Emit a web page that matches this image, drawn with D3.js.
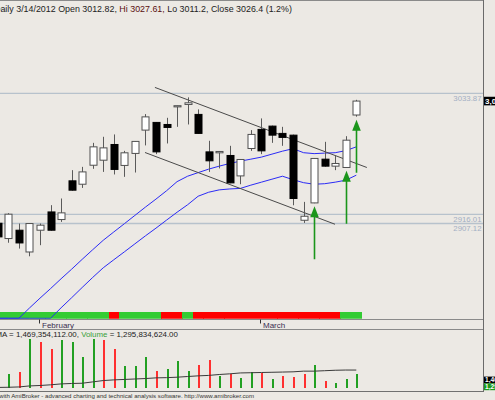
<!DOCTYPE html>
<html><head><meta charset="utf-8">
<script src="https://cdn.jsdelivr.net/npm/d3@7"></script>
<style>html,body{margin:0;padding:0;background:#ece9e4;overflow:hidden}svg{display:block}</style>
</head><body><svg id="c" width="495" height="400"></svg>
<script>
const dates = ["2012-01-26","2012-01-27","2012-01-30","2012-01-31",
  "2012-02-01","2012-02-02","2012-02-03","2012-02-06","2012-02-07","2012-02-08","2012-02-09","2012-02-10",
  "2012-02-13","2012-02-14","2012-02-15","2012-02-16","2012-02-17","2012-02-20","2012-02-21","2012-02-22",
  "2012-02-23","2012-02-24","2012-02-27","2012-02-28","2012-02-29",
  "2012-03-01","2012-03-02","2012-03-05","2012-03-06","2012-03-07","2012-03-08","2012-03-09","2012-03-12",
  "2012-03-13","2012-03-14"];
const open  = [2907.4,2892.5,2900.6,2879.4,2900.6,2918.4,2911.0,2948.7,2945.4,2963.9,2968.8,2984.1,2963.7,2975.4,2998.1,3005.6,3003.6,3021.4,3023.1,3013.4,2976.9,2976.0,2973.4,2953.5,2980.2,2998.8,3002.0,2994.9,2993.2,2910.3,2927.2,2969.8,2963.0,2961.7,3012.82];
const high  = [2910.3,2917.2,2907.1,2907.4,2907.1,2925.0,2931.5,2959.1,2962.3,2985.7,2991.6,2993.9,2977.9,2987.4,3013.7,3005.9,3010.1,3021.9,3030.0,3018.3,2987.7,2977.4,2982.8,2969.8,2998.1,3009.5,3002.5,3001.3,2993.7,2928.2,2970.8,2986.7,2973.7,2992.2,3027.61];
const low   = [2890.8,2888.4,2882.7,2875.2,2886.0,2900.1,2908.7,2939.1,2941.8,2960.4,2957.4,2954.9,2952.6,2956.8,2983.2,2974.7,2985.1,3001.3,3003.6,2994.7,2957.4,2960.8,2946.4,2945.4,2977.9,2974.7,2985.7,2982.8,2924.9,2907.7,2926.9,2962.5,2959.1,2961.5,3011.2];
const close = [2894.1,2916.2,2888.2,2907.1,2905.5,2900.6,2917.5,2939.6,2957.4,2981.8,2980.8,2959.8,2976.0,2987.1,3011.0,2976.9,3000.7,3021.9,3024.7,2994.9,2968.2,2977.3,2946.7,2969.5,2993.9,2977.9,2993.2,2991.0,2931.5,2914.2,2970.5,2963.0,2965.6,2988.3,3026.4];
const maFast = [2795,2805,2814.5,2824.8,2834.4,2843.7,2853.3,2862.6,2872.2,2881.6,2890.8,2898.9,2906.9,2915.0,2923.1,2930.9,2939.0,2947.9,2953.2,2956.7,2960.1,2963.0,2965.6,2967.9,2969.8,2971.8,2974.7,2977.6,2980.0,2976.1,2975.2,2975.7,2976.1,2978.1,2981.8];
const maSlow = [2770,2778,2786,2795,2805,2814.8,2825.0,2834.8,2844.8,2854.6,2864.0,2871.8,2879.5,2887.3,2895.1,2902.6,2910.4,2918.1,2925.4,2933.7,2937.6,2939.9,2940.8,2941.3,2944.5,2947.4,2950.3,2953.2,2949.8,2946.9,2945.4,2945.9,2947.4,2949.3,2954.2];
// volume in billions of shares
const volume = [1.50,1.28,1.37,2.85,2.74,2.41,2.81,2.71,2.04,2.85,2.81,2.41,1.67,1.67,2.07,1.44,1.52,1.89,1.44,1.71,1.92,1.22,1.30,1.10,1.37,1.33,1.06,1.21,1.15,1.30,1.68,0.98,0.91,1.06,1.295834624];
const volumeMA = [0.693,0.70,0.715,0.76,0.78,0.81,0.85,0.87,0.88,0.94,1.00,1.03,1.05,1.07,1.09,1.12,1.13,1.15,1.18,1.21,1.23,1.27,1.30,1.34,1.35,1.36,1.37,1.38,1.39,1.42,1.42,1.44,1.46,1.47,1.469354112];
const stripState = ["g","g","g","g","g","g","g","g","g","g","g","r","g","g","g","g","r","r","g","r","r","r","r","r","r","r","r","r","r","r","r","r","r","g","g"];
const refLevels = [3033.87, 2916.01, 2907.12];
const refLabels = ["3033.87", "2916.01", "2907.12"];
const buySignals = [30, 33, 34];
const trendUpper = [[14.9, 3039.7], [35.0, 2961.7]];
const trendLower = [[13.96, 2976.3], [31.98, 2906.4]];
const monthNames = ["January","February","March"];

const svg = d3.select("#c");
const W = 483;
const priceBottom = 318.3;
const FONT = "Liberation Sans, Arial, sans-serif";
const x = d3.scaleLinear().domain([0, dates.length - 1]).range([-2.2, 356.3]);
const step = x(1) - x(0);
const y = d3.scaleLinear().domain([2814.8, 3124.84]).range([priceBottom, 0]);
const yc = y.copy().clamp(true);
const yv = d3.scaleLinear().domain([0.69, 2.95]).range([387.5, 336.9]);

const defs = svg.append("defs");
defs.append("clipPath").attr("id","cp").append("rect").attr("x",0).attr("y",0).attr("width",W).attr("height",priceBottom+0.5);
defs.append("clipPath").attr("id","cv").append("rect").attr("x",0).attr("y",330).attr("width",W).attr("height",61);

// frames
const frame = svg.append("g").attr("stroke","#8a8a8a").attr("stroke-width",1).attr("shape-rendering","crispEdges");
frame.append("line").attr("x1",0).attr("x2",W).attr("y1",0.5).attr("y2",0.5);
frame.append("line").attr("x1",0).attr("x2",W).attr("y1",319.5).attr("y2",319.5);
frame.append("line").attr("x1",0).attr("x2",W).attr("y1",329.5).attr("y2",329.5);
frame.append("line").attr("x1",0).attr("x2",W).attr("y1",391.5).attr("y2",391.5).attr("stroke","#707070");
frame.append("line").attr("x1",W+0.5).attr("x2",W+0.5).attr("y1",0).attr("y2",392).attr("stroke","#6a6a6a");

const gp = svg.append("g").attr("clip-path","url(#cp)");

// strip
gp.append("g").attr("shape-rendering","crispEdges").selectAll("rect").data(stripState).join("rect")
  .attr("x",(d,i)=>x(i)-step/2).attr("width",step+0.3)
  .attr("y",311.7).attr("height",6.8)
  .attr("fill",d=>d==="g"?"#33cc33":"#ff0000");

// reference levels
refLevels.forEach((lv,k)=>{
  gp.append("line").attr("x1",0).attr("x2",W).attr("y1",y(lv)).attr("y2",y(lv))
    .attr("stroke","#b7c2cc").attr("stroke-width",1.4);
  svg.append("text").attr("x",481.5).attr("y",y(lv)+7.6).attr("text-anchor","end")
    .attr("font-family",FONT).attr("font-size",7.8)
    .attr("fill","#a3afc3").text(refLabels[k]);
});

// moving averages
const lineMA = d3.line().x((d,i)=>x(i)).y(d=>yc(d));
gp.append("path").attr("d",lineMA(maFast)).attr("fill","none").attr("stroke","#2b2bf5").attr("stroke-width",1);
gp.append("path").attr("d",lineMA(maSlow)).attr("fill","none").attr("stroke","#2b2bf5").attr("stroke-width",1);

// trend lines
[trendUpper, trendLower].forEach(t=>{
  gp.append("line").attr("x1",x(t[0][0])).attr("y1",y(t[0][1])).attr("x2",x(t[1][0])).attr("y2",y(t[1][1]))
    .attr("stroke","#4a4a4a").attr("stroke-width",1);
});

// candles
const gc = gp.append("g");
dates.forEach((d,i)=>{
  const cx = Math.round(x(i)) + 0.5;
  gc.append("line").attr("x1",cx).attr("x2",cx).attr("y1",y(high[i])).attr("y2",y(low[i]))
    .attr("stroke","#5a5a5a").attr("stroke-width",1);
  const up = close[i] >= open[i];
  const top = y(Math.max(open[i],close[i])), bot = y(Math.min(open[i],close[i]));
  gc.append("rect").attr("x",cx-3.5).attr("width",7)
    .attr("y",top).attr("height",Math.max(1.2,bot-top))
    .attr("fill",up?"#ffffff":"#000000").attr("stroke",up?"#505050":"#000000").attr("stroke-width",1);
});

// buy arrows
buySignals.forEach(i=>{
  const cx = Math.round(x(i)) + 0.5;
  const tip = y(low[i]) + 3;
  const tail = tip + 53;
  gp.append("line").attr("x1",cx).attr("x2",cx).attr("y1",tip+9).attr("y2",tail)
    .attr("stroke","#1b961b").attr("stroke-width",1.6);
  gp.append("path").attr("d",`M${cx},${tip} L${cx-4.3},${tip+11} L${cx+4.3},${tip+11} Z`).attr("fill","#1b961b");
});

// date axis
const parse = d3.timeParse("%Y-%m-%d");
const dd = dates.map(parse);
dd.forEach((d,i)=>{
  if (i>0 && d.getMonth() !== dd[i-1].getMonth()) {
    const tx = Math.round(x(i)) - 0.5;
    svg.append("line").attr("x1",tx).attr("x2",tx).attr("y1",319.5).attr("y2",323.5).attr("stroke","#333");
    svg.append("text").attr("x",tx+2.5).attr("y",327.6)
      .attr("font-family",FONT).attr("font-size",8)
      .attr("fill","#3b2f52").text(monthNames[d.getMonth()]);
  }
});

// header
const hdr = svg.append("text").attr("x",-6).attr("y",11.5)
  .attr("font-family",FONT).attr("font-size",8.9).attr("fill","#222");
hdr.append("tspan").text("Daily 3/14/2012 Open 3012.82, ");
hdr.append("tspan").attr("fill","#5a1010").text("Hi 3027.61, ");
hdr.append("tspan").text("Lo 3011.2, Close 3026.4 (1.2%)");

// volume panel
const gv = svg.append("g").attr("clip-path","url(#cv)");
gv.append("g").attr("shape-rendering","crispEdges").selectAll("rect").data(volume).join("rect")
  .attr("x",(d,i)=>Math.round(x(i))-0.5).attr("width",2)
  .attr("y",d=>yv(d)).attr("height",d=>yv.range()[0]-yv(d))
  .attr("fill",(d,i)=> (i===0 || close[i] >= close[i-1]) ? "#22a022" : "#ff3030");
gv.append("path").attr("d",d3.line().x((d,i)=>x(i)).y(d=>yv(d))(volumeMA))
  .attr("fill","none").attr("stroke","#3a3a3a").attr("stroke-width",1);

const vh = svg.append("text").attr("x",-4.5).attr("y",336.8)
  .attr("font-family",FONT).attr("font-size",7.9).attr("fill","#222");
vh.append("tspan").text("MA = 1,469,354,112.00, ");
vh.append("tspan").attr("fill","#3aa03a").text("Volume");
vh.append("tspan").text(" = 1,295,834,624.00");

// right value labels
function valLabel(cy, h, fs, bg, txt){
  svg.append("rect").attr("x",W+1).attr("y",cy-h/2).attr("width",14).attr("height",h).attr("fill",bg);
  svg.append("text").attr("x",W+2).attr("y",cy+fs*0.36)
    .attr("font-family",FONT).attr("font-size",fs).attr("font-weight","bold")
    .attr("fill","#fff").text(txt);
}
valLabel(y(close[close.length-1]), 8.6, 8, "#000", "3,026.40");
valLabel(380.0, 6.8, 6.6, "#000", "1,469,354,112");
valLabel(386.8, 6.8, 6.6, "#1a9a1a", "1,295,834,624");

// footer
svg.append("text").attr("x",-1).attr("y",397.6)
  .attr("font-family",FONT).attr("font-size",6.1).attr("fill","#333")
  .text("with AmiBroker - advanced charting and technical analysis software. http://www.amibroker.com");
</script></body></html>
